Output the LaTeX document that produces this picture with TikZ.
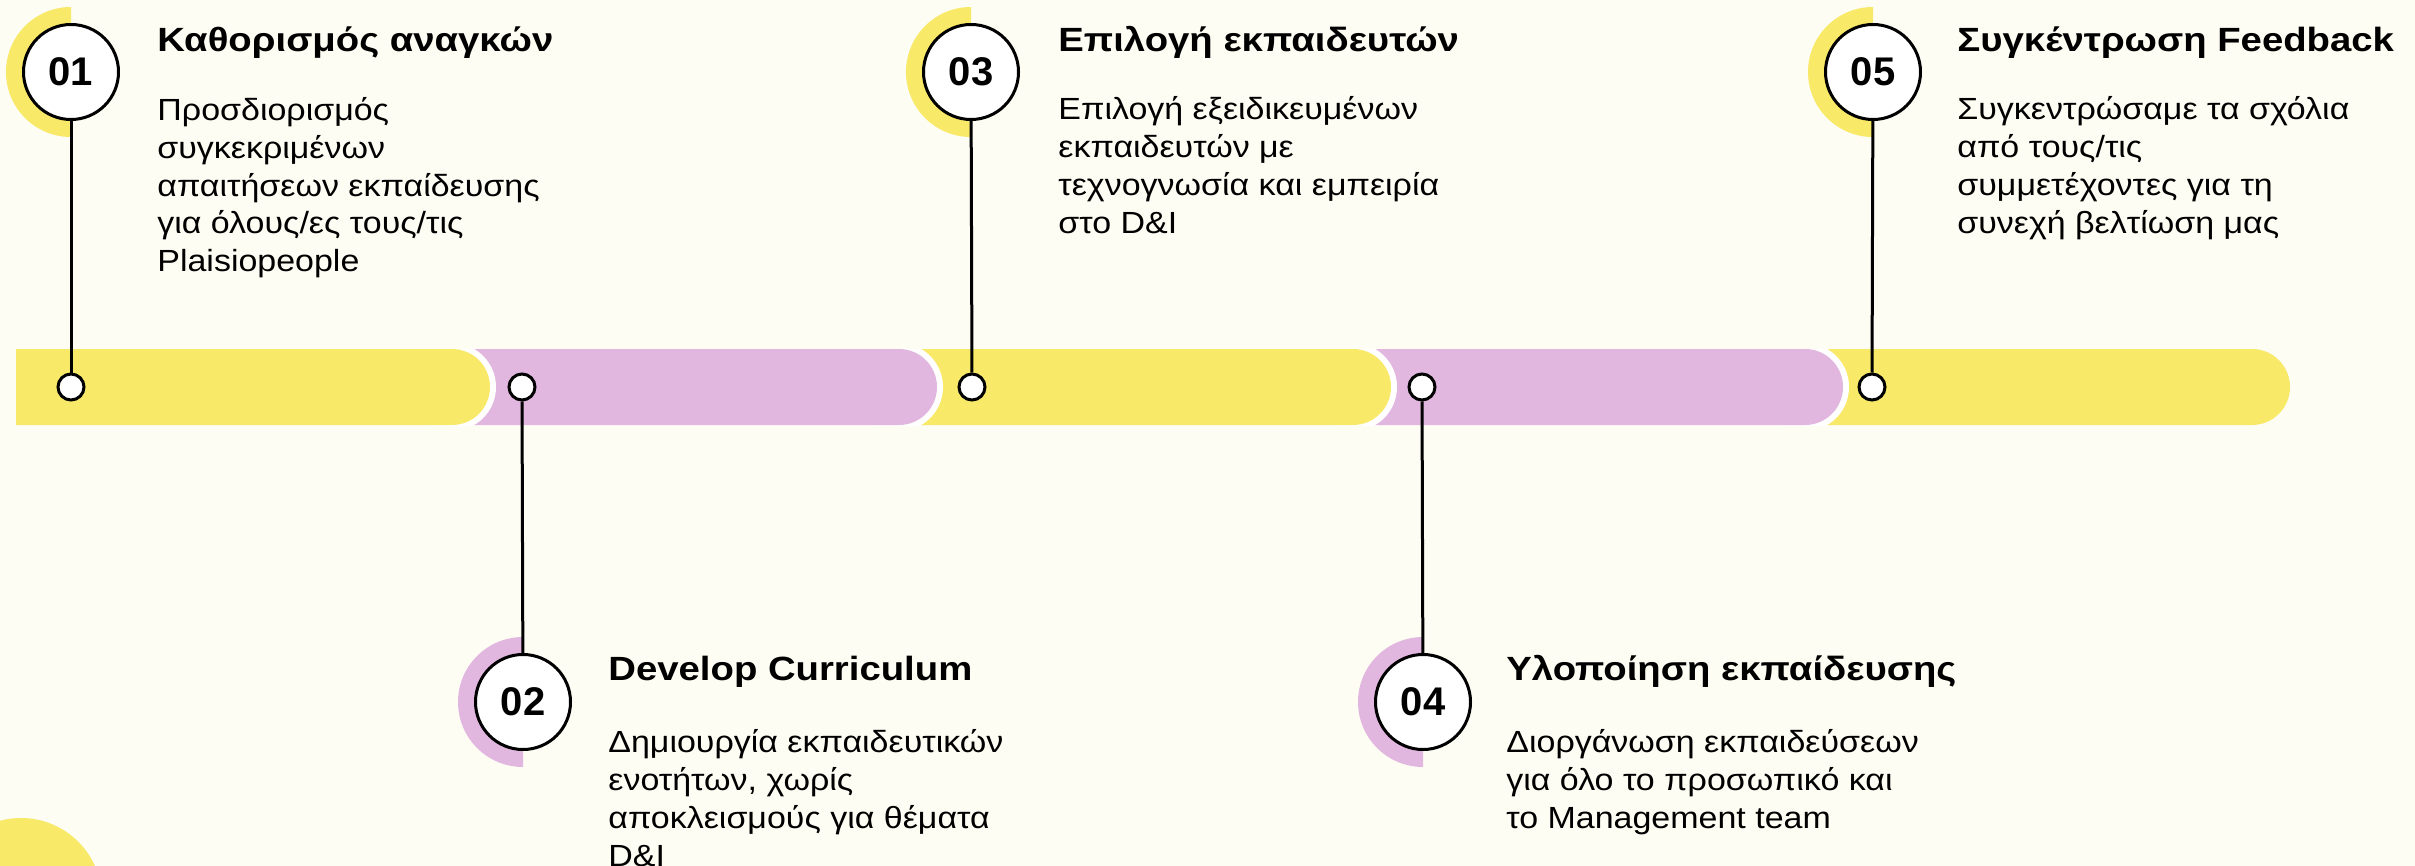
\documentclass[tikz,border=0pt]{standalone}
\usepackage{fontspec}
\setmainfont{Liberation Sans}
\newfontfamily\bodyfont[FakeStretch=1.11]{Liberation Sans}
\newfontfamily\titlefont[FakeStretch=1.14]{Liberation Sans}
\definecolor{cream}{RGB}{253,253,243}
\definecolor{sun}{RGB}{248,233,104}
\definecolor{lilac}{RGB}{225,183,224}
\tikzset{
  numcirc/.style={circle, draw=black, line width=1.5pt, fill=white, minimum size=47.5pt, inner sep=0pt,
    font=\fontsize{20pt}{24pt}\selectfont\bfseries},
  dot/.style={circle, draw=black, line width=1.5pt, fill=white, minimum size=13pt, inner sep=0pt},
  conn/.style={line width=1.5pt},
  ttl/.style={anchor=base west, inner sep=0pt, font=\titlefont\fontsize{16.8pt}{20pt}\selectfont\bfseries},
  body/.style={anchor=base west, inner sep=0pt, align=left, font=\bodyfont\fontsize{15.3pt}{19pt}\selectfont}
}
\begin{document}
\begin{tikzpicture}[x=0.5pt,y=-0.5pt]
        \fill[cream] (0,0) rectangle (2415,866);
        \useasboundingbox (0,0) rectangle (2415,866);
        \fill[sun] (21,899) circle[radius=81];
        % bar
        \begin{scope}
          \clip (0,349) rectangle (2415,425);
          \foreach \l/\r/\c/\h in {1805/2290/sun/0, 1353/1843/lilac/1, 899/1391/sun/1, 452/937/lilac/1, 16/490/sun/1}{
            \ifnum\h=1 \fill[white] (\r-38,387) circle[radius=44]; \fi
            \fill[\c] (\l,349) -- (\r-38,349) arc[start angle=-90,end angle=90,radius=38] -- (\l,425) -- cycle;
          }
        \end{scope}
        % half discs
        \fill[sun] (71,7) arc[start angle=-90,end angle=-270,radius=65] -- cycle;
        \fill[lilac] (523,637) arc[start angle=-90,end angle=-270,radius=65] -- cycle;
        \fill[sun] (971,7) arc[start angle=-90,end angle=-270,radius=65] -- cycle;
        \fill[lilac] (1423,637) arc[start angle=-90,end angle=-270,radius=65] -- cycle;
        \fill[sun] (1873,7) arc[start angle=-90,end angle=-270,radius=65] -- cycle;
        % steps
        \node[numcirc] (n1) at (71,72) {01};
        \node[numcirc] (n2) at (523,702) {02};
        \node[numcirc] (n3) at (971,72) {03};
        \node[numcirc] (n4) at (1423,702) {04};
        \node[numcirc] (n5) at (1873,72) {05};
        \node[dot] (d1) at (71,387) {};
        \node[dot] (d2) at (522,387) {};
        \node[dot] (d3) at (972,387) {};
        \node[dot] (d4) at (1422,387) {};
        \node[dot] (d5) at (1872,387) {};
        \draw[conn] (n1) -- (d1);
        \draw[conn] (d2) -- (n2);
        \draw[conn] (n3) -- (d3);
        \draw[conn] (d4) -- (n4);
        \draw[conn] (n5) -- (d5);
        % texts (body anchored at the last line)
        \node[ttl] (t1) at (157,52) {Καθορισμός αναγκών};
        \node[body] (b1) at (157,272) {Προσδιορισμός\\συγκεκριμένων\\απαιτήσεων εκπαίδευσης\\για όλους/ες τους/τις\\Plaisiopeople};
        \node[ttl] (t2) at (608,680) {Develop Curriculum};
        \node[body] (b2) at (608,866) {Δημιουργία εκπαιδευτικών\\ενοτήτων, χωρίς\\αποκλεισμούς για θέματα\\D\&I};
        \node[ttl] (t3) at (1058,52) {Επιλογή εκπαιδευτών};
        \node[body] (b3) at (1058,234) {Επιλογή εξειδικευμένων\\εκπαιδευτών με\\τεχνογνωσία και εμπειρία\\στο D\&I};
        \node[ttl] (t4) at (1506,680) {Υλοποίηση εκπαίδευσης};
        \node[body] (b4) at (1506,828) {Διοργάνωση εκπαιδεύσεων\\για όλο το προσωπικό και\\το Management team};
        \node[ttl] (t5) at (1957,52) {Συγκέντρωση Feedback};
        \node[body] (b5) at (1957,234) {Συγκεντρώσαμε τα σχόλια\\από τους/τις\\συμμετέχοντες για τη\\συνεχή βελτίωση μας};
\end{tikzpicture}
\end{document}
